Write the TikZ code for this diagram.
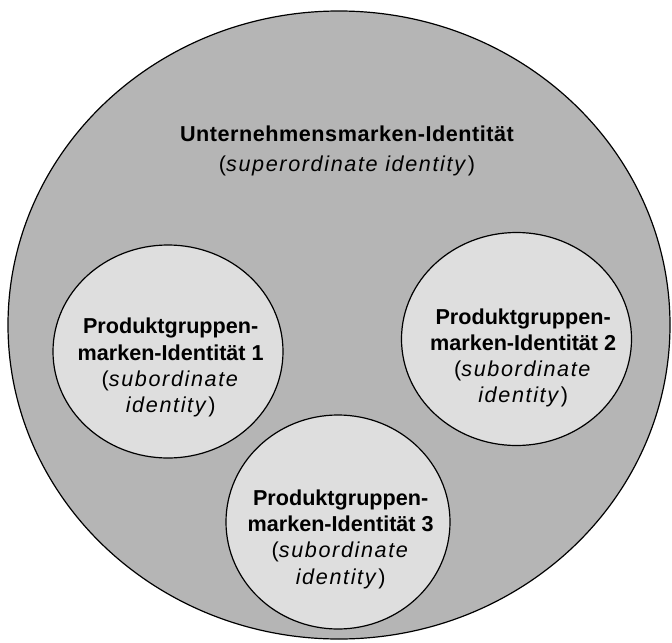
\documentclass[tikz,border=0pt]{standalone}
\usepackage{fontspec}
\setmainfont{Liberation Sans}
\newfontfamily\spacedfont{Liberation Sans}[LetterSpace=7.5]
\newfontfamily\titlefont{Liberation Sans}[LetterSpace=2.5]
\usetikzlibrary{shapes.geometric}
\usetikzlibrary{positioning}
\definecolor{outergray}{gray}{0.71}
\definecolor{innergray}{gray}{0.87}
\tikzstyle{brand} = [ellipse, draw=black, line width=0.9pt, fill=outergray, inner sep=0pt,
minimum width=496.5pt, minimum height=471pt]
\tikzstyle{product} = [ellipse, draw=black, line width=0.9pt, fill=innergray, inner sep=0pt,
minimum width=172.5pt, minimum height=159.75pt]
\tikzstyle{brandtext} = [align=center, font=\fontsize{16.2}{22.5}\selectfont]
\tikzstyle{producttext} = [align=center, font=\fontsize{16.2}{19.6}\selectfont]

\begin{document}
\begin{tikzpicture}[x=0.75pt, y=-0.75pt]
    \useasboundingbox (0,0) rectangle (672,643);
    \node (corp) [brand] at (339,325) {};
    \node (pg1) [product] at (168,351.5) {};
    \node (pg2) [product] at (516.5,339) {};
    \node (pg3) [product, minimum width=168pt, minimum height=160.5pt] at (338,522) {};

    \node (corptext) [brandtext] at (347,151)
    {{\titlefont\bfseries Unternehmensmarken-Identität}\\{\spacedfont(\textit{superordinate identity})}};
    \node (pg1text) [producttext, xshift=2pt, yshift=-12pt] at (pg1.center)
    {\textbf{Produktgruppen-}\\\textbf{marken-Identität 1}\\{\spacedfont(\textit{subordinate}}\\{\spacedfont\textit{identity})}};
    \node (pg2text) [producttext, xshift=5pt, yshift=-14pt] at (pg2.center)
    {\textbf{Produktgruppen-}\\\textbf{marken-Identität 2}\\{\spacedfont(\textit{subordinate}}\\{\spacedfont\textit{identity})}};
    \node (pg3text) [producttext, xshift=2pt, yshift=-13pt] at (pg3.center)
    {\textbf{Produktgruppen-}\\\textbf{marken-Identität 3}\\{\spacedfont(\textit{subordinate}}\\{\spacedfont\textit{identity})}};
\end{tikzpicture}
\end{document}
